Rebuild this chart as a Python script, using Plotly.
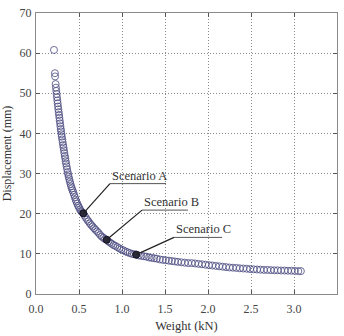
import plotly.graph_objects as go

# ---- data ----
weight = [0.209, 0.220, 0.222, 0.228, 0.232, 0.236, 0.240, 0.244, 0.248, 0.252,
          0.256, 0.260, 0.264, 0.268, 0.272, 0.276, 0.280, 0.284, 0.288, 0.292,
          0.296, 0.300, 0.305, 0.310, 0.315, 0.320, 0.325, 0.330, 0.335, 0.340,
          0.345, 0.350, 0.356, 0.362, 0.368, 0.374, 0.380, 0.387, 0.394, 0.401,
          0.409, 0.417, 0.425, 0.434, 0.443, 0.452, 0.461, 0.470, 0.480, 0.490,
          0.500, 0.511, 0.522, 0.535, 0.550, 0.565, 0.580, 0.595, 0.610, 0.626,
          0.642, 0.658, 0.675, 0.692, 0.710, 0.728, 0.746, 0.765, 0.784, 0.802,
          0.822, 0.842, 0.862, 0.882, 0.902, 0.922, 0.945, 0.968, 0.990, 1.015,
          1.040, 1.065, 1.090, 1.115, 1.140, 1.165, 1.195, 1.225, 1.255, 1.285,
          1.315, 1.345, 1.375, 1.405, 1.440, 1.475, 1.510, 1.545, 1.580, 1.615,
          1.650, 1.690, 1.730, 1.770, 1.810, 1.850, 1.890, 1.930, 1.970, 2.010,
          2.050, 2.090, 2.130, 2.170, 2.210, 2.250, 2.290, 2.330, 2.370, 2.410,
          2.450, 2.490, 2.530, 2.570, 2.610, 2.650, 2.690, 2.730, 2.770, 2.810,
          2.850, 2.890, 2.930, 2.970, 3.010, 3.050, 3.080]
displacement = [60.8, 55.0, 54.2, 52.3, 51.4, 50.6, 49.8, 49.0, 48.2, 47.5,
                46.7, 46.0, 45.3, 44.6, 43.9, 43.2, 42.5, 41.8, 41.1, 40.5,
                39.8, 39.2, 38.5, 37.8, 37.1, 36.5, 35.8, 35.1, 34.4, 33.8,
                33.1, 32.5, 31.8, 31.1, 30.4, 29.8, 29.2, 28.6, 28.0, 27.4,
                26.8, 26.3, 25.8, 25.3, 24.7, 24.1, 23.5, 23.0, 22.5, 22.0,
                21.6, 21.1, 20.7, 20.4, 20.1, 19.5, 19.0, 18.5, 18.1, 17.6,
                17.2, 16.8, 16.4, 16.0, 15.6, 15.2, 14.7, 14.3, 14.0, 13.7,
                13.5, 13.1, 12.8, 12.5, 12.2, 12.0, 11.7, 11.4, 11.1, 10.9,
                10.6, 10.4, 10.2, 10.0, 9.9, 9.8, 9.6, 9.5, 9.4, 9.3,
                9.1, 9.0, 8.9, 8.8, 8.6, 8.5, 8.4, 8.3, 8.2, 8.1,
                8.0, 7.9, 7.8, 7.7, 7.7, 7.6, 7.5, 7.4, 7.3, 7.2,
                7.1, 7.0, 6.9, 6.8, 6.7, 6.6, 6.55, 6.5, 6.4, 6.35,
                6.3, 6.2, 6.15, 6.1, 6.05, 6.0, 6.0, 5.95, 5.9, 5.9,
                5.85, 5.85, 5.8, 5.8, 5.75, 5.7, 5.7]

scenario_names = ["Scenario A", "Scenario B", "Scenario C"]
scenario_weight = [0.550, 0.822, 1.165]
scenario_disp = [20.1, 13.5, 9.8]

# label anchor positions (layout, data units)
label_x = [0.860, 1.233, 1.605]
label_y = [27.5, 20.9, 14.1]
label_w = [0.652, 0.534, 0.558]

x_ticks = [0.0, 0.5, 1.0, 1.5, 2.0, 2.5, 3.0, 3.5]
y_ticks = [0, 10, 20, 30, 40, 50, 60, 70]

FONT = "Liberation Serif"
MARK = "#4a4a80"

fig = go.Figure()
fig.add_trace(go.Scatter(
    x=weight, y=displacement, mode="markers",
    marker=dict(symbol="circle-open", size=7, color=MARK, line=dict(width=0.8, color=MARK)),
    showlegend=False, hoverinfo="skip"))
fig.add_trace(go.Scatter(
    x=scenario_weight, y=scenario_disp, mode="markers",
    marker=dict(symbol="circle", size=7, color="#2a2a3a", line=dict(width=1, color="#111122")),
    showlegend=False, hoverinfo="skip"))

for name, sx, sy, lx, ly, lw in zip(scenario_names, scenario_weight, scenario_disp,
                                    label_x, label_y, label_w):
    fig.add_shape(type="line", x0=sx, y0=sy, x1=lx, y1=ly,
                  line=dict(color="#222222", width=1.2))
    fig.add_shape(type="line", x0=lx, y0=ly, x1=lx + lw, y1=ly,
                  line=dict(color="#555555", width=1))
    fig.add_annotation(x=lx, y=ly, text=name, showarrow=False,
                       xanchor="left", yanchor="bottom", yshift=-1,
                       font=dict(family=FONT, size=12.5, color="#333333"))

axis_common = dict(
    showgrid=True, gridcolor="#8a8a8a", griddash="1px,2px", gridwidth=1,
    zeroline=False, showline=True, linecolor="#8a8a8a", linewidth=1.2, mirror="ticks",
    ticks="inside", ticklen=4, tickcolor="#555555",
    tickfont=dict(family=FONT, size=12, color="#444444"),
)

fig.update_xaxes(range=[0, 3.5], tickvals=x_ticks, ticktext=[f"{v:.1f}" for v in x_ticks],
                 ticklabelstandoff=3,
                 title=dict(text="Weight (kN)", font=dict(family=FONT, size=12.5, color="#333333"), standoff=6),
                 **axis_common)
fig.update_yaxes(range=[0, 70], tickvals=y_ticks, ticktext=[str(v) for v in y_ticks],
                 ticklabelstandoff=1,
                 title=dict(text="Displacement (mm)", font=dict(family=FONT, size=12, color="#333333"), standoff=5),
                 **axis_common)

fig.update_layout(
    width=344, height=336,
    margin=dict(l=36, r=7, t=6, b=32),
    paper_bgcolor="white", plot_bgcolor="white",
)

fig.write_html("out.html")
